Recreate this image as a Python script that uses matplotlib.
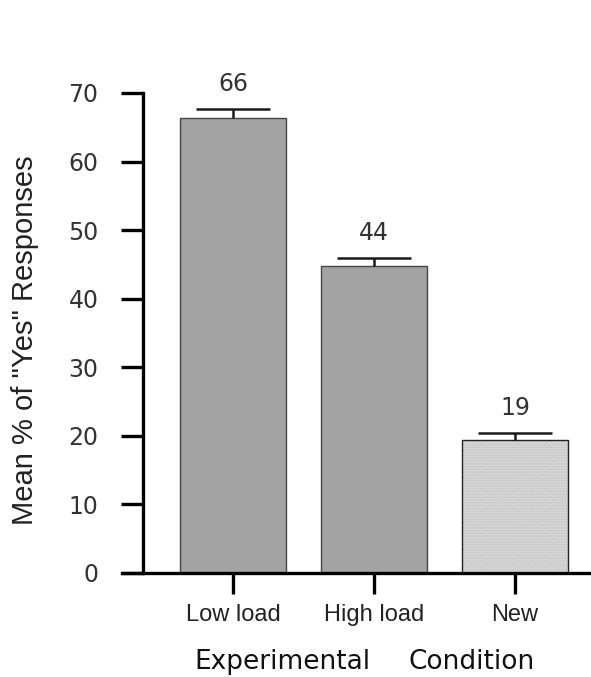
"""Mean % of "Yes" responses by experimental condition (bar chart with SE bars)."""
import matplotlib
matplotlib.use("Agg")
import matplotlib.pyplot as plt

conditions = ["Low load", "High load", "New"]
means = [66.4, 44.7, 19.4]
errors = [1.3, 1.2, 1.0]
value_labels = ["66", "44", "19"]
y_ticks = [0, 10, 20, 30, 40, 50, 60, 70]

plt.rcParams["font.family"] = ["DejaVu Sans"]
plt.rcParams["hatch.linewidth"] = 0.6

SANS = ["Liberation Sans", "DejaVu Sans"]


def render():
    fig = plt.figure(figsize=(5.91, 6.77), dpi=100)
    ax = fig.add_axes([122 / 591, 104 / 677, 469 / 591, 480 / 677])

    x = list(range(len(conditions)))
    width = 0.745
    fills = ["#a3a3a3", "#a3a3a3", "#d6d6d6"]

    # solid grey bars + stippled "New" bar
    for i in x:
        if i == 2:
            ax.bar(i, means[i], width, color=fills[i], hatch="......",
                   edgecolor="#bdbdbd", linewidth=0, zorder=2)
            ax.bar(i, means[i], width, fill=False, edgecolor="#222222",
                   linewidth=1.0, zorder=3)
        else:
            ax.bar(i, means[i], width, color=fills[i], edgecolor="#444444",
                   linewidth=1.0, zorder=2)

    # upper error bars only: stem + cap
    tops = [m + e for m, e in zip(means, errors)]
    cap = 0.262
    ax.vlines(x, means, tops, color="#1a1a1a", lw=1.8, zorder=4)
    ax.hlines(tops, [i - cap for i in x], [i + cap for i in x],
              color="#1a1a1a", lw=1.8, zorder=4)

    for i, lab in zip(x, value_labels):
        ax.text(i, tops[i] + 2.6, lab, ha="center", va="baseline",
                fontsize=17, color="#333333", clip_on=False)

    ax.set_xlim(-0.787, 2.539)
    ax.set_ylim(0, 70)
    ax.set_yticks(y_ticks)
    ax.set_xticks(x)
    ax.set_xticklabels(conditions, fontsize=17, family=SANS)

    for s in ["top", "right"]:
        ax.spines[s].set_visible(False)
    ax.spines["left"].set_position(("axes", 21 / 469))
    ax.spines["left"].set_linewidth(2.4)
    ax.spines["bottom"].set_linewidth(2.4)

    ax.tick_params(axis="y", direction="out", length=16, width=2.4,
                   labelsize=17, pad=16, labelcolor="#333333")
    ax.tick_params(axis="x", direction="out", length=15, width=2.4,
                   pad=7, labelcolor="#222222")

    fig.text(25 / 591, 1 - 340 / 677, 'Mean % of "Yes" Responses', rotation=90,
             ha="center", va="center", fontsize=21, color="#222222", family=SANS)
    # x title: two words set wide apart, as in the original
    fig.text(194 / 591, 1 - 669 / 677, "Experimental", ha="left", va="baseline",
             fontsize=19, color="#111111")
    fig.text(535 / 591, 1 - 669 / 677, "Condition", ha="right", va="baseline",
             fontsize=19, color="#111111")

    fig.savefig("out.png", dpi=100)
    plt.close(fig)


if __name__ == "__main__":
    render()
